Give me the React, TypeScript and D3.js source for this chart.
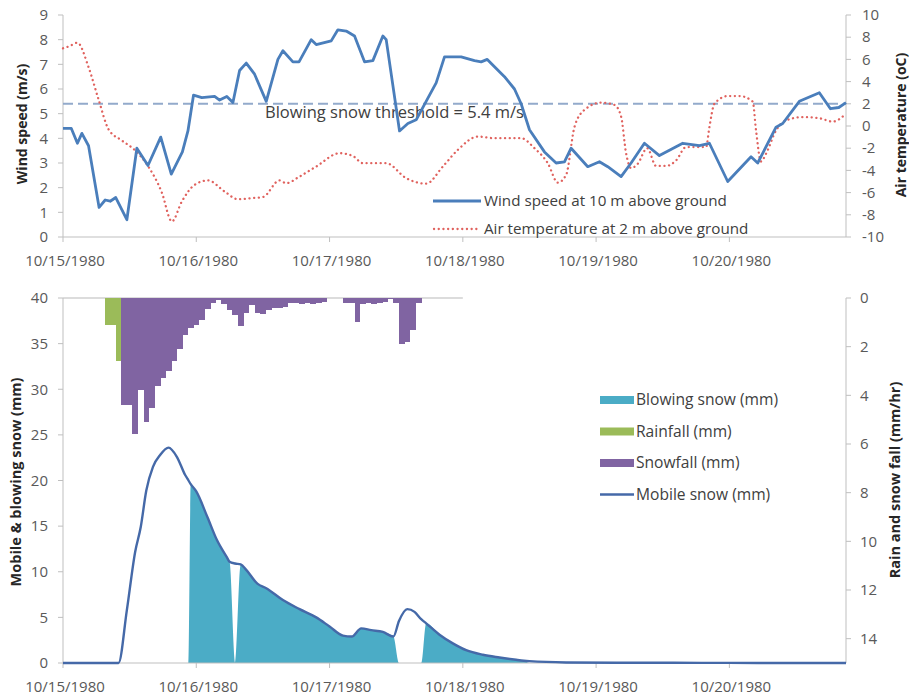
import React from "react";
import * as d3 from "d3";

// Time axis: hours since 10/15/1980 00:00
const dayLabels = ["10/15/1980", "10/16/1980", "10/17/1980", "10/18/1980", "10/19/1980", "10/20/1980"];
const windTicks = [0, 1, 2, 3, 4, 5, 6, 7, 8, 9];
const tempTicks = [-10, -8, -6, -4, -2, 0, 2, 4, 6, 8, 10];
const snowTicks = [0, 5, 10, 15, 20, 25, 30, 35, 40];
const precipTicks = [0, 2, 4, 6, 8, 10, 12, 14];
const blowingThreshold = 5.4;

// Wind speed at 10 m (m/s)
const windHours = [0, 1.5, 2.6, 3.4, 4.6, 6.5, 7.6, 8.5, 9.5, 11.5, 13.3, 15.3, 17.6, 19.5, 21.5, 22.5, 23.5, 25, 27.3, 28.2, 29.5, 30.6, 31.8, 33, 34.5, 36.6, 38.7, 39.6, 41.4, 42.5, 44.7, 45.6, 48.3, 49.5, 51, 52.5, 54.3, 55.8, 57.6, 58.2, 60.6, 62.1, 63.6, 66, 67.2, 68.7, 71.7, 74.1, 75.3, 76.4, 77.7, 79.5, 81.3, 82.5, 84, 86.7, 88.8, 90.3, 91.5, 94.5, 96.6, 98.1, 100.5, 102.3, 104.7, 107.4, 111.6, 114.6, 116.4, 119.7, 123.9, 125.1, 128.4, 129.6, 132.6, 136.2, 138.2, 139.7, 141];
const windSpeed = [4.4, 4.4, 3.8, 4.2, 3.7, 1.2, 1.5, 1.45, 1.6, 0.7, 3.6, 2.9, 4.05, 2.55, 3.45, 4.3, 5.75, 5.65, 5.7, 5.55, 5.7, 5.45, 6.75, 7.05, 6.6, 5.5, 7.2, 7.55, 7.1, 7.1, 8.0, 7.8, 7.95, 8.4, 8.35, 8.15, 7.1, 7.15, 8.15, 8.0, 4.3, 4.6, 4.75, 5.75, 6.25, 7.3, 7.3, 7.15, 7.1, 7.2, 6.9, 6.5, 6.0, 5.4, 4.35, 3.45, 3.0, 3.05, 3.6, 2.85, 3.05, 2.85, 2.45, 3.0, 3.8, 3.3, 3.8, 3.7, 3.8, 2.25, 3.25, 3.0, 4.45, 4.6, 5.5, 5.85, 5.2, 5.25, 5.45];

// Air temperature at 2 m (°C)
const tempHours = [0, 1.2, 2.6, 4.6, 6.4, 8.2, 10.6, 13, 15.3, 17.8, 19.6, 21.4, 23.7, 26.1, 29.1, 31.5, 33.9, 36, 39, 40.2, 42.6, 45.6, 49.8, 52.2, 54, 58.2, 61.8, 65.4, 68.4, 71.1, 74.7, 77.7, 82.5, 84.9, 87.3, 89.1, 90.6, 92.1, 93.9, 96.9, 99.3, 100.5, 101.4, 102.3, 103.5, 105.2, 106.8, 108.6, 110.4, 112.2, 115.8, 116.4, 117.3, 119.7, 121.8, 124.2, 124.8, 125.7, 126.6, 128.4, 130.2, 133.2, 136.2, 138.6, 141];
const airTemp = [7.0, 7.2, 7.5, 5.3, 2.4, -0.3, -1.3, -2.2, -3.6, -6.0, -8.6, -6.8, -5.3, -4.9, -5.9, -6.6, -6.5, -6.4, -4.9, -5.15, -4.55, -3.65, -2.45, -2.7, -3.35, -3.35, -4.7, -5.2, -3.65, -2.15, -0.95, -1.1, -1.1, -2.0, -3.35, -5.1, -4.4, -0.1, 1.45, 2.1, 1.9, 0.85, -2.45, -3.8, -3.4, -2.0, -3.6, -3.6, -3.1, -1.9, -1.9, -0.1, 2.0, 2.7, 2.7, 2.2, -0.4, -3.2, -2.5, -0.4, 0.5, 0.8, 0.7, 0.4, 1.1];

// Mobile and blowing snow (mm)
const snowHours = [0, 10, 11.5, 13, 14, 15, 16.2, 17.5, 19, 20.5, 22, 22.6, 23, 24, 26, 27.7, 29.5, 30, 31, 32, 33, 35, 36.6, 39.6, 42.6, 45.6, 48, 50.4, 52, 53.7, 55.5, 57.6, 59.5, 60.5, 62, 63.3, 64.5, 65.4, 67.8, 70.2, 72.6, 75.6, 78.6, 81.6, 83, 84, 90.6, 100, 110, 120, 130, 141];
const mobileSnow = [0, 0, 5.8, 12.2, 14.9, 18.9, 21.5, 22.8, 23.6, 22.6, 20.6, 20.0, 19.6, 18.8, 16, 13.5, 11.6, 11.1, 10.9, 10.8, 10.2, 8.7, 8.2, 6.9, 5.9, 5.0, 4.0, 3.0, 2.9, 3.8, 3.6, 3.4, 2.9, 4.6, 5.9, 5.6, 4.8, 4.35, 3.1, 2.15, 1.4, 0.9, 0.6, 0.35, 0.25, 0.2, 0.06, 0.03, 0.02, 0.01, 0, 0];
const blowingSnow = [0, 0, 0, 0, 0, 0, 0, 0, 0, 0, 0, 0, 19.6, 18.8, 16, 13.5, 11.6, 11.1, 0, 10.8, 10.2, 8.7, 8.2, 6.9, 5.9, 5.0, 4.0, 3.0, 2.9, 3.8, 3.6, 3.4, 2.9, 0, 0, 0, 0, 4.35, 3.1, 2.15, 1.4, 0.9, 0.6, 0.35, 0.25, 0, 0, 0, 0, 0, 0, 0];

// Hourly rain and snow fall (mm/hr)
const precipRecord = [0, 72];
const rainHours = [8, 9, 10];
const rainfall = [1.1, 1.1, 2.6];
const snowfallHours = [11, 12, 13, 14, 15, 16, 17, 18, 19, 20, 21, 22, 23, 24, 25, 26, 27, 28, 29, 30, 31, 32, 33, 34, 35, 36, 37, 38, 39, 40, 41, 42, 43, 44, 45, 46, 47, 51, 52, 53, 54, 55, 56, 57, 58, 59, 60, 61, 62, 63, 64];
const snowfall = [4.4, 4.4, 5.6, 3.8, 5.1, 4.5, 3.6, 3.3, 3.0, 2.6, 2.1, 1.5, 1.25, 1.1, 0.9, 0.45, 0.22, 0.1, 0.25, 0.5, 0.7, 1.15, 0.6, 0.3, 0.6, 0.65, 0.5, 0.4, 0.4, 0.35, 0.2, 0.2, 0.25, 0.2, 0.25, 0.2, 0.15, 0.2, 0.2, 1.0, 0.25, 0.2, 0.25, 0.2, 0.15, 0.05, 0.2, 1.9, 1.8, 1.3, 0.2];

const FONT = "'Open Sans', 'DejaVu Sans', sans-serif";
const AXIS = "#bfbfbf";
const LABEL = "#595959";
const TEXT = "#404040";
const WIND = "#4a7ebb";
const TEMP = "#e0625e";
const BLOW = "#4bacc6";
const RAIN = "#9bbb59";
const SNOW = "#8064a2";
const MOBILE = "#4569a8";

const W = 909;
const H = 698;
const left = 63;
const right = 846;
const top1 = 15;
const bottom1 = 237;
const top2 = 298;
const bottom2 = 663;

export default function App() {
  const x = d3.scaleLinear().domain([0, 141]).range([left, right]);
  const yWind = d3.scaleLinear().domain([0, 9]).range([bottom1, top1]);
  const yTemp = d3.scaleLinear().domain([-10, 10]).range([bottom1, top1]);
  const ySnow = d3.scaleLinear().domain([0, 40]).range([bottom2, top2]);
  const yPrecip = d3.scaleLinear().domain([0, 15]).range([top2, bottom2]);

  const windLine = d3
    .line<number>()
    .x((_, i) => x(windHours[i]))
    .y((d) => yWind(d))
    .curve(d3.curveLinear)(windSpeed) as string;

  const tempLine = d3
    .line<number>()
    .x((_, i) => x(tempHours[i]))
    .y((d) => yTemp(d))
    .curve(d3.curveMonotoneX)(airTemp) as string;

  const mobileLine = d3
    .line<number>()
    .x((_, i) => x(snowHours[i]))
    .y((d) => ySnow(d))
    .curve(d3.curveMonotoneX)(mobileSnow) as string;

  const blowArea = d3
    .area<number>()
    .x((_, i) => x(snowHours[i]))
    .y0(ySnow(0))
    .y1((d) => ySnow(d))
    .curve(d3.curveMonotoneX)(blowingSnow) as string;

  const dayTicks = dayLabels.map((_, i) => i * 24);

  const xAxis = (y0: number, labelY: number) => (
    <g>
      <line x1={left} x2={right} y1={y0} y2={y0} stroke={AXIS} strokeWidth={1} />
      {dayTicks.map((h, i) => (
        <g key={i}>
          <line x1={x(h)} x2={x(h)} y1={y0} y2={y0 + 5} stroke={AXIS} />
          <text x={x(h) + 2} y={labelY} textAnchor="middle" fontSize={15} fill={LABEL} fontFamily={FONT}>
            {dayLabels[i]}
          </text>
        </g>
      ))}
    </g>
  );

  const yAxisLeft = (scale: d3.ScaleLinear<number, number>, ticks: number[], y0: number, y1: number) => (
    <g>
      <line x1={left} x2={left} y1={y0} y2={y1} stroke={AXIS} />
      {ticks.map((t) => (
        <g key={t}>
          <line x1={left - 5} x2={left} y1={scale(t)} y2={scale(t)} stroke={AXIS} />
          <text x={left - 15} y={scale(t)} dy="0.35em" textAnchor="end" fontSize={15} fill={LABEL} fontFamily={FONT}>
            {t}
          </text>
        </g>
      ))}
    </g>
  );

  const yAxisRight = (scale: d3.ScaleLinear<number, number>, ticks: number[], y0: number, y1: number, lx: number) => (
    <g>
      <line x1={right} x2={right} y1={y0} y2={y1} stroke={AXIS} />
      {ticks.map((t) => (
        <g key={t}>
          <line x1={right} x2={right + 5} y1={scale(t)} y2={scale(t)} stroke={AXIS} />
          <text x={lx} y={scale(t)} dy="0.35em" textAnchor="start" fontSize={15} fill={LABEL} fontFamily={FONT}>
            {t}
          </text>
        </g>
      ))}
    </g>
  );

  const title = (text: string, cx: number, cy: number, size: number) => (
    <text
      transform={`translate(${cx},${cy}) rotate(-90)`}
      textAnchor="middle"
      dy="0.35em"
      fontSize={size}
      fontWeight="bold"
      fill="#262626"
      fontFamily={FONT}
    >
      {text}
    </text>
  );

  const barWidth = x(1) - x(0);

  return (
    <svg width={W} height={H} style={{ position: "absolute", left: 0, top: 0, background: "#fff" }}>
      <rect width={W} height={H} fill="#fff" />

      {/* Upper panel: wind speed and air temperature */}
      {yAxisLeft(yWind, windTicks, top1, bottom1)}
      {yAxisRight(yTemp, tempTicks, top1, bottom1, 862)}
      {xAxis(bottom1, 266)}
      <line
        x1={x(0)}
        x2={x(141)}
        y1={yWind(blowingThreshold)}
        y2={yWind(blowingThreshold)}
        stroke="#93aacb"
        strokeWidth={2}
        strokeDasharray="10 5"
      />
      <text x={265} y={112} dy="0.35em" fontSize={16.5} fill={TEXT} fontFamily={FONT}>
        Blowing snow threshold = 5.4 m/s
      </text>
      <path d={tempLine} fill="none" stroke={TEMP} strokeWidth={2.3} strokeDasharray="0.1 4.6" strokeLinecap="round" />
      <path d={windLine} fill="none" stroke={WIND} strokeWidth={2.8} strokeLinejoin="round" />
      {title("Wind speed (m/s)", 22, 124, 14)}
      {title("Air temperature (oC)", 901, 125, 14)}

      {/* Upper legend */}
      <line x1={433} x2={481} y1={201} y2={201} stroke={WIND} strokeWidth={2.8} />
      <text x={484} y={201} dy="0.35em" fontSize={15.2} fill={TEXT} fontFamily={FONT}>
        Wind speed at 10 m above ground
      </text>
      <line x1={434} x2={479} y1={229} y2={229} stroke={TEMP} strokeWidth={2.3} strokeDasharray="0.1 4.6" strokeLinecap="round" />
      <text x={484} y={229} dy="0.35em" fontSize={15.2} fill={TEXT} fontFamily={FONT}>
        Air temperature at 2 m above ground
      </text>

      {/* Lower panel: snow budget */}
      <path d={blowArea} fill={BLOW} stroke="none" />
      <line x1={x(precipRecord[0])} x2={x(precipRecord[1])} y1={yPrecip(0)} y2={yPrecip(0)} stroke="#d0d0d0" strokeWidth={1.5} />
      {rainHours.map((h, i) => (
        <rect
          key={`r${h}`}
          x={x(h - 0.5)}
          width={barWidth}
          y={yPrecip(0)}
          height={yPrecip(rainfall[i]) - yPrecip(0)}
          fill={RAIN}
          shapeRendering="crispEdges"
        />
      ))}
      {snowfallHours.map((h, i) => (
        <rect
          key={`s${h}`}
          x={x(h - 0.5)}
          width={barWidth + 0.4}
          y={yPrecip(0)}
          height={yPrecip(snowfall[i]) - yPrecip(0)}
          fill={SNOW}
          shapeRendering="crispEdges"
        />
      ))}
      {yAxisLeft(ySnow, snowTicks, top2, bottom2)}
      {yAxisRight(yPrecip, precipTicks, top2, bottom2, 860)}
      {xAxis(bottom2, 692)}
      <path d={mobileLine} fill="none" stroke={MOBILE} strokeWidth={2.4} strokeLinejoin="round" />
      {title("Mobile & blowing snow (mm)", 16, 482, 14.5)}
      {title("Rain and snow fall (mm/hr)", 895, 480, 14.5)}

      {/* Lower legend */}
      {[
        { label: "Blowing snow (mm)", color: BLOW, kind: "bar" },
        { label: "Rainfall (mm)", color: RAIN, kind: "bar" },
        { label: "Snowfall (mm)", color: SNOW, kind: "bar" },
        { label: "Mobile snow (mm)", color: MOBILE, kind: "line" },
      ].map((item, i) => {
        const cy = 400 + i * 31.5;
        return (
          <g key={item.label}>
            {item.kind === "bar" ? (
              <rect x={600} y={cy - 4} width={34} height={8} fill={item.color} />
            ) : (
              <line x1={600} x2={634} y1={cy} y2={cy} stroke={item.color} strokeWidth={2.4} />
            )}
            <text x={636} y={cy} dy="0.35em" fontSize={15.6} fill={TEXT} fontFamily={FONT}>
              {item.label}
            </text>
          </g>
        );
      })}
    </svg>
  );
}
